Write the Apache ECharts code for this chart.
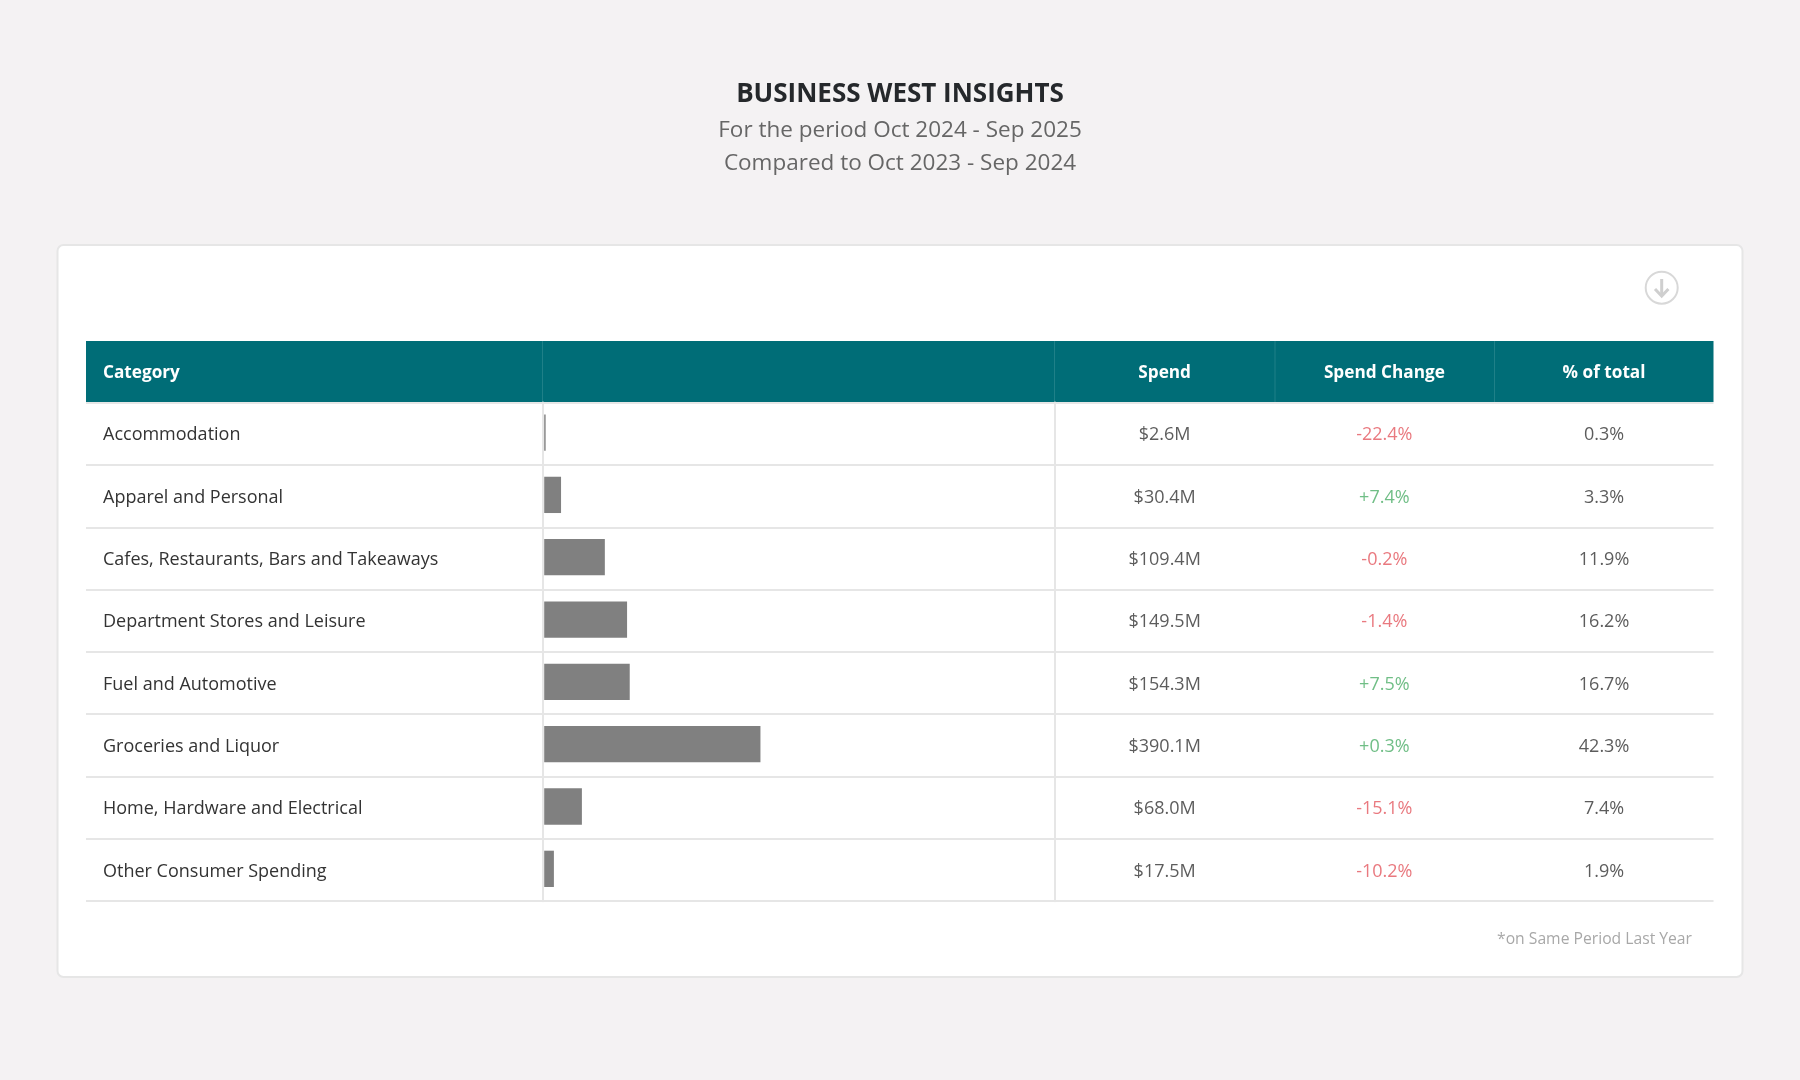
<!DOCTYPE html>
<html>
<head>
<meta charset="utf-8">
<style>html,body{margin:0;padding:0;background:#f4f2f3}#c{width:1800px;height:1080px}</style>
<script src="https://cdn.jsdelivr.net/npm/echarts@6/dist/echarts.min.js"></script>
</head>
<body>
<div id="c"></div>
<script>
const categories = ['Accommodation','Apparel and Personal','Cafes, Restaurants, Bars and Takeaways','Department Stores and Leisure','Fuel and Automotive','Groceries and Liquor','Home, Hardware and Electrical','Other Consumer Spending'];
const spend = [2.6,30.4,109.4,149.5,154.3,390.1,68.0,17.5];
const spendChange = [-22.4,7.4,-0.2,-1.4,7.5,0.3,-15.1,-10.2];
const pctOfTotal = [0.3,3.3,11.9,16.2,16.7,42.3,7.4,1.9];
const columns = ['Spend','Spend Change','% of total'];

const FONT = '"Open Sans", sans-serif';
const RED = '#e4585f', GREEN = '#4cae68', INK = '#333333', RULE = '#e6e6e6', TEAL = '#006d77';
const total = spend.reduce((a,b)=>a+b,0);
const spendText = v => '$' + v.toFixed(1) + 'M';
const changeText = v => (v>0?'+':'') + v.toFixed(1) + '%';
const pctText = v => v.toFixed(1) + '%';

const textSeries = (col, values, fmt, colour) => ({
  type:'scatter', xAxisIndex:1, yAxisIndex:1, symbolSize:1, z:5,
  itemStyle:{color:'transparent'},
  data: values.map((v,i)=>({value:[col,i], label:{formatter:fmt(v), color:colour(v)}})),
  label:{show:true, position:'inside', fontFamily:FONT, fontSize:18}
});

const chart = echarts.init(document.getElementById('c'), null, {renderer:'canvas'});
chart.setOption({
  animation:false,
  backgroundColor:'#f4f2f3',
  title:[
    {text:'BUSINESS WEST INSIGHTS', left:895, top:77, textAlign:'center', textStyle:{fontFamily:FONT, fontSize:26, fontWeight:700, color:'#25282b'}},
    {text:'For the period Oct 2024 - Sep 2025', left:895, top:114, textAlign:'center', textStyle:{fontFamily:FONT, fontSize:22.5, fontWeight:400, color:'#666666'}},
    {text:'Compared to Oct 2023 - Sep 2024', left:895, top:147.5, textAlign:'center', textStyle:{fontFamily:FONT, fontSize:22.5, fontWeight:400, color:'#666666'}}
  ],
  grid:[
    {left:544.2, width:511, top:401.4, height:498.6},
    {left:1054.8, width:659.1, top:404.2, height:498.6},
    {left:86, width:1627.5, top:402.6, height:498.6}
  ],
  xAxis:[
    {gridIndex:0, type:'value', min:0, max:total, show:false},
    {gridIndex:1, type:'category', data:columns, position:'top',
      axisLine:{show:false}, axisTick:{show:false}, splitLine:{show:false},
      axisLabel:{margin:23, color:'#fff', fontFamily:FONT, fontSize:17.2, fontWeight:700}},
    {gridIndex:2, type:'value', min:0, max:1, show:false}
  ],
  yAxis:[
    {gridIndex:0, type:'category', data:categories, inverse:true, show:false},
    {gridIndex:1, type:'category', data:categories, inverse:true, show:false},
    {gridIndex:2, type:'category', data:categories, inverse:true,
      axisLine:{show:false}, axisTick:{show:false},
      splitLine:{show:true, interval:0, lineStyle:{color:RULE, width:2}},
      axisLabel:{show:false}},
    {gridIndex:2, type:'category', data:categories, inverse:true, position:'left', offset:-456.5,
      axisLine:{show:true, lineStyle:{color:RULE, width:2}}, axisTick:{show:false}, axisLabel:{show:false}, splitLine:{show:false}},
    {gridIndex:2, type:'category', data:categories, inverse:true, position:'left', offset:-968.4,
      axisLine:{show:true, lineStyle:{color:RULE, width:2}}, axisTick:{show:false}, axisLabel:{show:false}, splitLine:{show:false}},
    {gridIndex:1, type:'category', data:categories, inverse:true, position:'left', offset:951.8,
      axisLine:{show:false}, axisTick:{show:false}, splitLine:{show:false},
      axisLabel:{inside:true, margin:0, align:'left', interval:0, color:INK, fontFamily:FONT, fontSize:18}}
  ],
  series:[
    {type:'bar', xAxisIndex:0, yAxisIndex:0, data:spend, barWidth:36.3, itemStyle:{color:'#808080'}, z:4},
    textSeries(0, spend, spendText, ()=>INK),
    textSeries(1, spendChange, changeText, v=>v<0?RED:GREEN),
    textSeries(2, pctOfTotal, pctText, ()=>INK)
  ],
  graphic:[
    {type:'rect', z:-20, silent:true, shape:{x:57.5,y:245,width:1685,height:732,r:6}, style:{fill:'#fff',stroke:'#e6e6e6',lineWidth:2}},
    {type:'rect', z:-10, silent:true, shape:{x:86,y:341,width:1627.5,height:61}, style:{fill:TEAL}},
    {type:'line', z:-9, silent:true, shape:{x1:542.5,y1:341,x2:542.5,y2:402}, style:{stroke:'#1f8088',lineWidth:1}},
    {type:'line', z:-9, silent:true, shape:{x1:1054.5,y1:341,x2:1054.5,y2:402}, style:{stroke:'#1f8088',lineWidth:1}},
    {type:'line', z:-9, silent:true, shape:{x1:1275,y1:341,x2:1275,y2:402}, style:{stroke:'#1f8088',lineWidth:1}},
    {type:'line', z:-9, silent:true, shape:{x1:1494.5,y1:341,x2:1494.5,y2:402}, style:{stroke:'#1f8088',lineWidth:1}},
    {type:'text', z:6, silent:true, x:103, y:373, style:{text:'Category', fill:'#fff', font:'700 17.2px "Open Sans", sans-serif', textVerticalAlign:'middle'}},
    {type:'text', z:6, silent:true, x:1692, y:940, style:{text:'*on Same Period Last Year', fill:'#a8a8a8', font:'400 15.7px "Open Sans", sans-serif', textAlign:'right', textVerticalAlign:'middle'}},
    {type:'circle', z:6, silent:true, shape:{cx:1661.7,cy:287.7,r:16}, style:{fill:'none',stroke:'#d8d8d8',lineWidth:2}},
    {type:'polyline', z:6, silent:true, shape:{points:[[1661.7,279],[1661.7,296]]}, style:{fill:'none',stroke:'#cfcfcf',lineWidth:3}},
    {type:'polyline', z:6, silent:true, shape:{points:[[1655,289],[1661.7,296],[1668.4,289]]}, style:{fill:'none',stroke:'#cfcfcf',lineWidth:3}}
  ]
});
</script>
</body>
</html>
